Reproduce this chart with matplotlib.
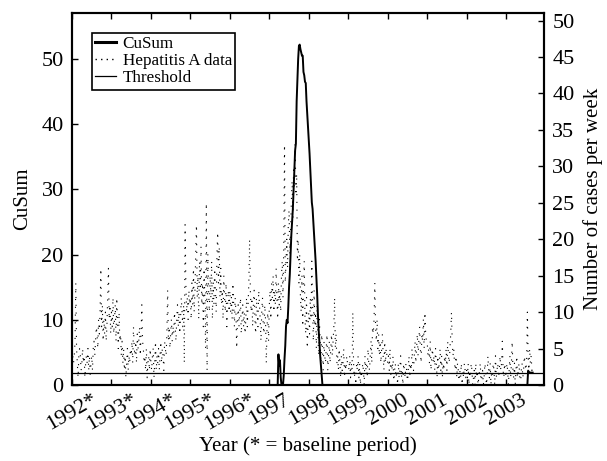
import numpy as np
import matplotlib.pyplot as plt
from matplotlib.lines import Line2D

plt.rcParams['font.family'] = ['Liberation Serif', 'DejaVu Serif']

# weekly hepatitis A counts, one list per year
cases_1992 = [5, 4, 3, 4, 6, 14, 5, 3, 1, 4, 5, 4, 2, 3, 5, 3, 4, 1, 3, 4, 3, 5, 2, 4, 1, 3,
              4, 2, 5, 6, 4, 6, 8, 7, 5, 9, 7, 10, 16, 8, 11, 6, 9, 7, 10, 6, 8, 12, 16, 9, 11, 7]
cases_1993 = [10, 8, 12, 7, 9, 11, 6, 12, 8, 5, 10, 6, 7, 4, 6, 3, 5, 2, 4, 1, 3, 5, 2, 4, 3, 5,
              4, 6, 3, 8, 5, 4, 6, 3, 7, 5, 6, 8, 4, 7, 11, 6, 5, 3, 4, 2, 5, 1, 3, 4, 2, 5]
cases_1994 = [3, 2, 4, 5, 1, 3, 6, 2, 4, 3, 5, 2, 4, 6, 3, 5, 4, 2, 6, 5, 4, 7, 13, 6, 8, 5,
              7, 9, 6, 8, 7, 10, 8, 6, 9, 11, 8, 10, 7, 9, 12, 10, 8, 11, 3, 22, 14, 10, 12, 9, 13, 11]
cases_1995 = [12, 9, 14, 11, 16, 10, 13, 18, 22, 12, 15, 9, 17, 13, 19, 11, 14, 8, 16, 12, 5, 25,
              2, 18, 13, 10, 15, 12, 17, 9, 14, 11, 16, 13, 10, 18, 21, 14, 19, 12, 16, 11, 13, 9,
              15, 12, 10, 14, 8, 11, 13, 10]
cases_1996 = [13, 10, 12, 9, 14, 11, 8, 12, 10, 5, 9, 11, 8, 10, 12, 7, 9, 11, 8, 10, 7, 9, 12, 8,
              11, 14, 20, 13, 10, 12, 8, 11, 13, 9, 7, 12, 10, 8, 13, 11, 9, 6, 10, 12, 8, 7, 11, 9,
              3, 8, 10, 6]
cases_1997 = [11, 13, 9, 14, 12, 15, 10, 13, 11, 16, 12, 9, 14, 11, 13, 10, 15, 17, 12, 19, 33, 14,
              17, 20, 16, 22, 24, 18, 21, 25, 28, 23, 30, 27, 33, 26, 29, 17, 20, 14, 18, 12, 10, 15,
              8, 13, 17, 9, 7, 12, 5, 8]
cases_1998 = [10, 7, 12, 9, 17, 11, 6, 13, 8, 10, 5, 11, 7, 4, 9, 6, 3, 7, 5, 2, 6, 4, 3, 5, 7, 2,
              4, 6, 3, 5, 7, 4, 6, 8, 12, 5, 7, 3, 4, 2, 5, 3, 1, 4, 2, 3, 5, 1, 3, 2, 4, 3]
cases_1999 = [3, 2, 4, 1, 3, 2, 10, 3, 1, 2, 0, 3, 2, 4, 1, 3, 0, 2, 1, 3, 2, 0, 4, 2, 3, 1,
              5, 3, 2, 4, 6, 3, 8, 7, 9, 14, 8, 6, 9, 5, 7, 4, 6, 3, 5, 7, 4, 2, 6, 3, 5, 4]
cases_2000 = [3, 4, 2, 5, 1, 3, 2, 4, 0, 2, 3, 1, 2, 0, 3, 1, 2, 4, 1, 2, 0, 3, 2, 1, 3, 2,
              0, 2, 4, 1, 3, 2, 5, 3, 2, 4, 6, 3, 5, 7, 4, 6, 8, 5, 3, 7, 6, 9, 5, 10, 7, 6]
cases_2001 = [6, 4, 5, 3, 6, 2, 4, 5, 3, 4, 2, 5, 3, 1, 4, 2, 3, 5, 2, 4, 1, 3, 2, 4, 3, 5,
              2, 6, 4, 3, 5, 7, 10, 6, 4, 5, 3, 2, 4, 1, 3, 2, 0, 2, 1, 3, 0, 2, 1, 3, 2, 1]
cases_2002 = [2, 1, 3, 0, 2, 1, 3, 2, 0, 1, 2, 0, 3, 1, 2, 0, 1, 2, 3, 0, 1, 2, 0, 1, 3, 2,
              0, 1, 4, 2, 1, 3, 0, 2, 1, 3, 2, 0, 4, 1, 2, 3, 1, 2, 4, 2, 3, 6, 2, 1, 3, 2]
cases_2003 = [1, 3, 2, 0, 2, 4, 1, 3, 6, 2, 1, 3, 0, 2, 4, 1, 2, 3, 1, 0, 2, 3, 1, 2, 4, 3,
              2, 3, 10, 4, 2, 5, 3, 4, 2, 3]

# weekly CuSum from 1997 on (zero in the years not listed)
cusum_1997 = [0, 0, 0, 0, 0, 0, 0, 0, 0, 0, 0, 0, 4.7, 3.0, 3.8, 1.2, 0, 0, 0, 1.5, 4, 6, 9, 10,
              9.5, 12, 15, 17, 20, 23, 25, 27, 30, 33, 36, 37, 43.5, 47, 50, 52, 52.2, 51.5, 51,
              50.5, 50.5, 48, 47.5, 46.5, 46.3, 43.5, 41.5, 39.5]
cusum_1998 = [37.5, 35.5, 33, 30.5, 28, 27, 25, 23, 21, 19, 16.6, 14, 11, 8.5, 6.4, 4.5, 3, 1.5,
              0, 0, 0, 0, 0, 0, 0, 0, 0, 0, 0, 0, 0, 0, 0, 0, 0, 0, 0, 0, 0, 0, 0, 0, 0, 0, 0, 0,
              0, 0, 0, 0, 0, 0]
cusum_1999 = [0] * 52
cusum_2000 = [0] * 52
cusum_2001 = [0] * 52
cusum_2002 = [0] * 52
cusum_2003 = [0, 0, 0, 0, 0, 0, 0, 0, 0, 0, 0, 0, 0, 0, 0, 0, 0, 0, 0, 0, 0, 0, 0, 0, 0, 0,
              0, 0, 0, 2.2, 2.0, 1.9, 1.9, 1.9, 1.9, 1.9]

threshold = 1.85

years = list(range(1992, 2004))
year_labels = ['1992*', '1993*', '1994*', '1995*', '1996*', '1997', '1998', '1999',
               '2000', '2001', '2002', '2003']

cases = np.array(cases_1992 + cases_1993 + cases_1994 + cases_1995 + cases_1996 + cases_1997 +
                 cases_1998 + cases_1999 + cases_2000 + cases_2001 + cases_2002 + cases_2003)
t_cases = 1992 + np.arange(len(cases)) / 52

cusum = np.array(cusum_1997 + cusum_1998 + cusum_1999 + cusum_2000 + cusum_2001 +
                 cusum_2002 + cusum_2003)
t_cusum = 1997 + np.arange(len(cusum)) / 52

dotted = (0, (1, 6))

fig = plt.figure(figsize=(6.07, 4.61), dpi=100)
ax = fig.add_axes([72 / 607, 76 / 461, 472 / 607, 371.7 / 461])
ax2 = ax.twinx()

ax.plot(t_cusum, cusum, color='k', lw=1.4, zorder=3)
ax.axhline(threshold, color='k', lw=0.9)
ax2.plot(t_cases, cases, color='k', lw=0.8, linestyle=dotted)

ax.set_xlim(1992, 2003.96)
ax.set_ylim(0, 57)
ax2.set_ylim(0, 51)

ax.set_yticks(range(0, 51, 10))
ax2.set_yticks(range(0, 51, 5))
ax.set_xticks(years)
ax.set_xticklabels(year_labels, rotation=30, ha='center')

for a in (ax, ax2):
    for sp in a.spines.values():
        sp.set_linewidth(1.5)
ax.tick_params(axis='y', direction='in', length=4, width=1, labelsize=16, pad=6)
ax.tick_params(axis='x', direction='in', top=True, length=4, width=1, labelsize=16, pad=4)
ax2.tick_params(direction='in', length=4, width=1, labelsize=16, pad=6)

ax.set_xlabel('Year (* = baseline period)', fontsize=15, labelpad=1)
ax.set_ylabel('CuSum', fontsize=15, labelpad=7)
ax2.set_ylabel('Number of cases per week', fontsize=15, labelpad=6)

handles = [Line2D([], [], color='k', lw=2.2),
           Line2D([], [], color='k', lw=1.0, linestyle=(0, (1, 3))),
           Line2D([], [], color='k', lw=0.9)]
leg = ax2.legend(handles, ['CuSum', 'Hepatitis A data', 'Threshold'],
                 loc='upper left', bbox_to_anchor=(0.042, 0.947), borderaxespad=0,
                 fontsize=12.3, frameon=True, fancybox=False, framealpha=1,
                 edgecolor='k', handlelength=1.2, handletextpad=0.4,
                 labelspacing=0.05, borderpad=0.2)
leg.get_frame().set_linewidth(1.2)

fig.savefig('out.png', dpi=100)
